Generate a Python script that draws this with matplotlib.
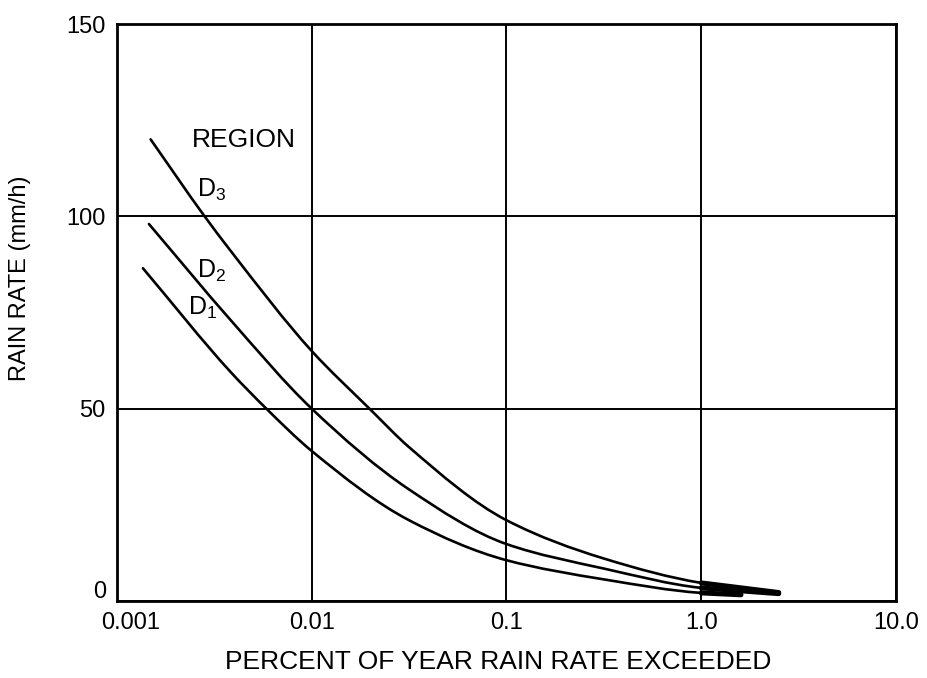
import numpy as np
import matplotlib
matplotlib.use("Agg")
import matplotlib.pyplot as plt
import matplotlib.transforms as mtransforms
from matplotlib.path import Path
from matplotlib.patches import PathPatch

plt.rcParams["font.family"] = ["Liberation Sans", "DejaVu Sans"]
plt.rcParams["mathtext.fontset"] = "custom"
plt.rcParams["mathtext.rm"] = "Liberation Sans"
plt.rcParams["mathtext.it"] = "Liberation Sans"

# percent of year exceeded vs rain rate (mm/h) for each rain region
pct_d3 = [0.00149, 0.00282, 0.00384, 0.01, 0.0198, 0.0316, 0.1, 0.318, 1.0, 2.5]
rate_d3 = [120, 100, 91, 65, 50, 40, 21, 11, 4.7, 2.2]

pct_d2 = [0.00146, 0.00384, 0.01, 0.0316, 0.1, 0.318, 1.0, 2.5]
rate_d2 = [98, 73, 50, 29, 14.8, 8.4, 3.4, 1.9]

pct_d1 = [0.00136, 0.00384, 0.00585, 0.01, 0.0316, 0.1, 0.318, 1.0, 1.6]
rate_d1 = [86.5, 59.5, 50, 39, 21, 10.6, 5.6, 2.1, 1.6]

x_ticks = [0.001, 0.01, 0.1, 1.0, 10.0]
x_ticklabels = ["0.001", "0.01", "0.1", "1.0", "10.0"]
y_ticks = [0, 50, 100, 150]


def pchip_slopes(x, y):
    # shape-preserving tangents so the curve never wiggles between points
    h = np.diff(x)
    d = np.diff(y) / h
    m = np.zeros_like(y)
    m[0], m[-1] = d[0], d[-1]
    for k in range(1, len(y) - 1):
        if d[k - 1] * d[k] <= 0:
            m[k] = 0.0
        else:
            w1 = 2 * h[k] + h[k - 1]
            w2 = h[k] + 2 * h[k - 1]
            m[k] = (w1 + w2) / (w1 / d[k - 1] + w2 / d[k])
    return m


def smooth_path(xs, ys):
    # cubic Bezier through the points, built in log10(x) so it is smooth on a log axis
    lx = np.log10(xs)
    y = np.asarray(ys, dtype=float)
    m = pchip_slopes(lx, y)
    verts = [(lx[0], y[0])]
    codes = [Path.MOVETO]
    for i in range(len(lx) - 1):
        h = lx[i + 1] - lx[i]
        verts += [(lx[i] + h / 3, y[i] + m[i] * h / 3),
                  (lx[i + 1] - h / 3, y[i + 1] - m[i + 1] * h / 3),
                  (lx[i + 1], y[i + 1])]
        codes += [Path.CURVE4] * 3
    verts = np.array(verts)
    verts[:, 0] = 10 ** verts[:, 0]
    return Path(verts, codes)


fig = plt.figure(figsize=(9.28, 6.78), dpi=100)
ax = fig.add_axes([0.126, 0.1136, 0.8395, 0.851])

ax.set_xscale("log")
ax.set_xlim(0.001, 10.0)
ax.set_ylim(0, 150)

for xs, ys in [(pct_d3, rate_d3), (pct_d2, rate_d2), (pct_d1, rate_d1)]:
    ax.add_patch(PathPatch(smooth_path(xs, ys), fill=False, edgecolor="black",
                           lw=1.9, capstyle="round", zorder=3))
    # the curves run together into a heavy stroke at the low-rate end
    ax.add_patch(PathPatch(smooth_path(xs[-2:], ys[-2:]), fill=False,
                           edgecolor="black", lw=3.6, capstyle="round", zorder=3))

ax.set_xticks(x_ticks)
ax.set_xticklabels(x_ticklabels)
ax.xaxis.set_minor_locator(matplotlib.ticker.NullLocator())
ax.set_yticks(y_ticks)
ax.tick_params(length=0, labelsize=17, pad=8)
ax.grid(True, color="black", lw=1.4)
ax.set_axisbelow(True)
for s in ax.spines.values():
    s.set_linewidth(2.0)

# nudge the corner labels apart: "0" sits a little high, "0.001" a little right
fig.canvas.draw()
ylab0 = ax.get_yticklabels()[0]
ylab0.set_transform(ylab0.get_transform() +
                    mtransforms.ScaledTranslation(0, 8 / 72, fig.dpi_scale_trans))
xlab0 = ax.get_xticklabels()[0]
xlab0.set_transform(xlab0.get_transform() +
                    mtransforms.ScaledTranslation(10 / 72, 0, fig.dpi_scale_trans))

ax.set_xlabel("PERCENT OF YEAR RAIN RATE EXCEEDED", fontsize=19)
ax.xaxis.set_label_coords(0.49, -0.085)
ax.set_ylabel("RAIN RATE (mm/h)", fontsize=17)
ax.yaxis.set_label_coords(-0.11, 0.56)

ax.text(0.00243, 119.8, "REGION", fontsize=19, va="center", ha="left")
ax.text(0.00258, 107, r"$\mathrm{D}_3$", fontsize=18, va="center", ha="left")
ax.text(0.00258, 85.7, r"$\mathrm{D}_2$", fontsize=18, va="center", ha="left")
ax.text(0.00232, 76.3, r"$\mathrm{D}_1$", fontsize=18, va="center", ha="left")

fig.savefig("out.png", dpi=100)
